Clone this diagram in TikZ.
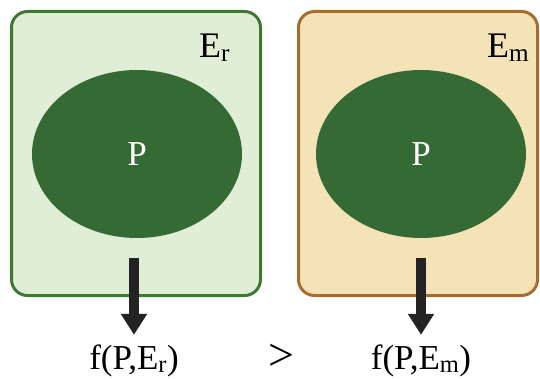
\documentclass[tikz,border=0pt]{standalone}
\usepackage{fontspec}
\setmainfont{Liberation Serif}
\definecolor{refgreen}{RGB}{60,122,52}
\definecolor{reffill}{RGB}{224,238,214}
\definecolor{modbrown}{RGB}{166,110,46}
\definecolor{modfill}{RGB}{243,227,182}
\definecolor{plantgreen}{RGB}{54,106,52}
\definecolor{arrowgray}{RGB}{35,35,35}
\usetikzlibrary{shapes.geometric, arrows.meta, positioning}

\begin{document}
\begin{tikzpicture}[x=1pt, y=-1pt,
  envbox/.style={rounded corners=16pt, line width=3pt, minimum width=#1, minimum height=284pt, inner sep=0pt},
  plant/.style={ellipse, fill=plantgreen, minimum width=210pt, minimum height=168pt, text=white, font=\fontsize{35}{35}\selectfont},
  envlabel/.style={anchor=base west, inner sep=0pt, font=\fontsize{36}{36}\selectfont},
  outlabel/.style={anchor=base, font=\fontsize{35}{35}\selectfont},
  effect/.style={line width=10pt, arrowgray, -{Triangle[length=21pt, width=25pt]}, shorten >=6pt}]
  \useasboundingbox (0,0) rectangle (540,379);

  % Environment boxes
  \node[envbox=249pt, draw=refgreen, fill=reffill] (envr) at (136,153.5) {};
  \node[envbox=239pt, draw=modbrown, fill=modfill] (envm) at (418,153.5) {};

  % Environment names
  \node[envlabel] (namer) at (199,58) {E\textsubscript{r}};
  \node[envlabel] (namem) at (487,58) {E\textsubscript{m}};

  % Plants
  \node[plant] (plantr) at (137,154) {P};
  \node[plant] (plantm) at (421,154) {P};

  % Outcomes
  \node[outlabel] (outr) at (134,369) {f(P,E\textsubscript{r})};
  \node[outlabel] (outm) at (421,369) {f(P,E\textsubscript{m})};
  \node[anchor=base, inner sep=0pt, font=\fontsize{46}{46}\selectfont] (gt) at (281,370) {>};

  % Arrows
  \coordinate (startr) at (134,258);
  \coordinate (startm) at (421,258);
  \draw[effect] (startr) -- (outr.north);
  \draw[effect] (startm) -- (outm.north);
\end{tikzpicture}
\end{document}
